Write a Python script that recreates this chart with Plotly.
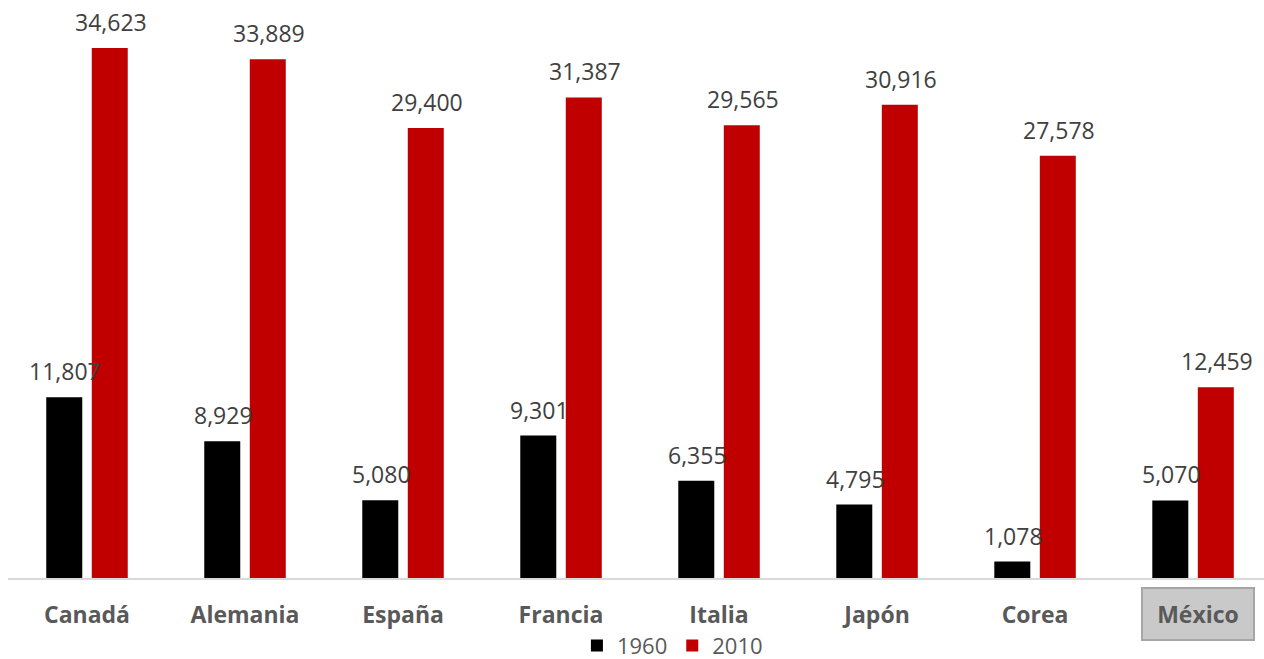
import plotly.graph_objects as go

countries = ["Canadá", "Alemania", "España", "Francia", "Italia", "Japón", "Corea", "México"]
v1960 = [11807, 8929, 5080, 9301, 6355, 4795, 1078, 5070]
v2010 = [34623, 33889, 29400, 31387, 29565, 30916, 27578, 12459]
series_names = ["1960", "2010"]
colors = ["#000000", "#c00000"]
highlight = "México"

FONT = "Open Sans"
fig = go.Figure()
for name, vals, col in zip(series_names, [v1960, v2010], colors):
    fig.add_trace(go.Bar(x=countries, y=vals, name=name, marker=dict(color=col, line=dict(width=0))))

# data labels drawn on top of all bars
slot_px = 45.5
for offs, vals in [(-slot_px / 2, v1960), (slot_px / 2, v2010)]:
    for c, v in zip(countries, vals):
        fig.add_annotation(x=c, y=v, text=f"{v:,}", showarrow=False, yanchor="bottom",
                           xshift=offs + 1, yshift=8,
                           font=dict(family=FONT, size=23, color="#404040"))

ticktext = [("" if c == highlight else c) for c in countries]
fig.add_annotation(x=highlight, y=0, yref="y", text="<b>" + highlight + "</b>", showarrow=False,
                   yanchor="top", yshift=-9, xshift=5,
                   width=108, height=48, bgcolor="#c9c9c9", bordercolor="#a6a6a6",
                   borderwidth=2, font=dict(family=FONT, size=23, color="#595959"))

fig.update_layout(
    width=1264, height=659,
    margin=dict(l=8, r=0, t=10, b=81, autoexpand=False),
    paper_bgcolor="white", plot_bgcolor="white",
    barmode="group", bargap=0.424, bargroupgap=0.209,
    showlegend=True,
    legend=dict(orientation="h", x=0.529, xanchor="center", yref="container",
                y=0.02, yanchor="middle",
                font=dict(family=FONT, size=22, color="#595959"), itemwidth=30,
                traceorder="normal"),
    xaxis=dict(type="category", range=[-0.5, 7.449], showgrid=False, showline=True,
               linecolor="#d9d9d9", linewidth=1.5, ticks="", tickvals=countries,
               ticktext=["<b>" + t + "</b>" if t else "" for t in ticktext],
               ticklabelstandoff=16,
               tickfont=dict(family=FONT, size=23, color="#595959")),
    yaxis=dict(range=[0, 37100], visible=False, showgrid=False, zeroline=False),
)
fig.write_html("out.html")
